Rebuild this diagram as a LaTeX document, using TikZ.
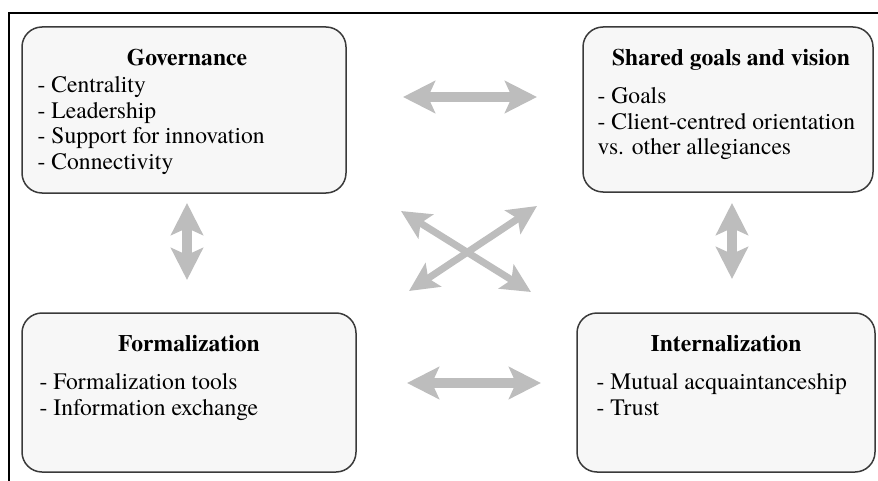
\documentclass[tikz,border=0pt]{standalone}
\usepackage{fontspec}
\setmainfont{texgyretermes}[Extension=.otf,UprightFont=*-regular,BoldFont=*-bold,ItalicFont=*-italic,BoldItalicFont=*-bolditalic]
\usetikzlibrary{arrows.meta,positioning}

\definecolor{boxfill}{HTML}{F7F7F7}
\definecolor{boxline}{HTML}{3A3A3A}
\definecolor{linkgray}{HTML}{BDBDBD}

\begin{document}
\begin{tikzpicture}[x=0.5pt,y=-0.5pt,
  font=\fontsize{11.8}{12.75}\selectfont,
  block/.style={draw=boxline,fill=boxfill,line width=0.75pt,rounded corners=10pt,inner sep=0pt},
  title/.style={font=\fontsize{11.8}{12.75}\selectfont\bfseries,inner sep=0pt,anchor=base},
  items/.style={align=left,inner sep=0pt,anchor=north west},
  link/.style={draw=linkgray,line width=5pt,
    >={Stealth[length=16pt,width=16pt,inset=3.5pt]},<->},
  xlink/.style={draw=linkgray,line width=3.5pt,
    >={Stealth[length=14.5pt,width=14pt,inset=3pt]},<->}]
 \useasboundingbox (0,0) rectangle (878,481);
 %\draw[help lines] (0,0) grid[step=50] (878,481);
 \draw[line width=1pt] (9,481) -- (9,13) -- (878,13);

 \node[block,minimum width=162pt,minimum height=83pt]   (gov)  at (184,110)   {};
 \node[block,minimum width=145pt,minimum height=82.5pt] (goal) at (728,109.5) {};
 \node[block,minimum width=167pt,minimum height=79.5pt] (form) at (189,392.5) {};
 \node[block,minimum width=149pt,minimum height=79.5pt] (intr) at (726,392.5) {};

 \node[title] (govt)  at ([xshift=1.5pt,yshift=-19.5pt]gov.north)  {Governance};
 \node[title] (goalt) at ([xshift=1.5pt,yshift=-19.5pt]goal.north) {Shared goals and vision};
 \node[title] (formt) at ([yshift=-19.5pt]form.north)              {Formalization};
 \node[title] (intrt) at ([yshift=-19.5pt]intr.north)              {Internalization};

 \node[items] (govl)  at ([xshift=8pt,yshift=-25pt]gov.north west)
   {- Centrality\\- Leadership\\- Support for innovation\\- Connectivity};
 \node[items] (goall) at ([xshift=7.5pt,yshift=-30.5pt]goal.north west)
   {- Goals\\- Client-centred orientation\\vs. other allegiances};
 \node[items] (forml) at ([xshift=9pt,yshift=-30.5pt]form.north west)
   {- Formalization tools\\- Information exchange};
 \node[items] (intrl) at ([xshift=10pt,yshift=-30.5pt]intr.north west)
   {- Mutual acquaintanceship\\- Trust};

 % arrow ends
 \coordinate (gs1) at (403,97);  \coordinate (gs2) at (537,97);
 \coordinate (fi1) at (407,383); \coordinate (fi2) at (541,383);
 \coordinate (gf1) at (187,203); \coordinate (gf2) at (187,280);
 \coordinate (si1) at (732,203); \coordinate (si2) at (732,279);
 \coordinate (gi1) at (401,211); \coordinate (gi2) at (531,292);
 \coordinate (sf1) at (537,206); \coordinate (sf2) at (409,291);

 \draw[link]  (gs1) -- (gs2);
 \draw[link]  (fi1) -- (fi2);
 \draw[link]  (gf1) -- (gf2);
 \draw[link]  (si1) -- (si2);
 \draw[xlink] (gi1) -- (gi2);
 \draw[xlink] (sf1) -- (sf2);
\end{tikzpicture}
\end{document}
